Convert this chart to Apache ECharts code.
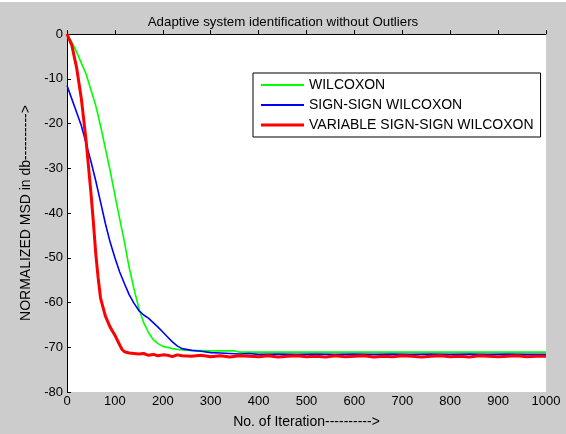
<!DOCTYPE html>
<html>
<head>
<meta charset="utf-8">
<script src="https://cdn.jsdelivr.net/npm/echarts@6/dist/echarts.min.js"></script>
<style>
html,body{margin:0;padding:0;background:#fff;}
#chart{width:566px;height:434px;}
</style>
</head>
<body>
<div id="chart"></div>
<script>
const titleText = 'Adaptive system identification without Outliers';
const xName = 'No. of Iteration---------->';
const yName = 'NORMALIZED MSD in db---------->';
const seriesNames = ['WILCOXON', 'SIGN-SIGN WILCOXON', 'VARIABLE SIGN-SIGN WILCOXON'];

const wilcoxonX = [0,10,20,30,40,50,60,70,80,90,100,110,120,130,140,150,160,170,180,190,200,220,240,260,300,350,360,1000];
const wilcoxonY = [0,-1.8,-4,-6.5,-9,-12.5,-16,-20.5,-25.5,-30.5,-36,-41.3,-46.5,-52.3,-57,-61.3,-64.5,-66.7,-68.3,-69.2,-69.8,-70.3,-70.6,-70.7,-70.8,-70.8,-71.1,-71.1];

const signX = [0,10,20,30,40,50,60,70,80,90,100,110,120,130,140,150,160,170,180,190,200,210,220,230,240,260,280,300,320,340,360,380,400,440,480,520,560,600,640,680,720,760,800,840,880,920,960,1000];
const signY = [-11.5,-14.5,-17.5,-20.5,-24.5,-28.5,-32.8,-37.5,-42.3,-46.5,-50,-53.2,-55.8,-58.3,-60.2,-61.8,-62.8,-63.5,-64.5,-65.5,-66.6,-67.7,-68.8,-69.7,-70.3,-70.7,-70.9,-71.2,-71.3,-71.4,-71.5,-71.4,-71.6,-71.5,-71.6,-71.5,-71.6,-71.5,-71.6,-71.5,-71.6,-71.5,-71.6,-71.5,-71.6,-71.5,-71.6,-71.6];

const variableX = [0,10,20,30,40,50,55,60,65,70,80,90,100,110,115,120,130,140,150,160,170,180,190,200,210,220,230,240,260,280,300,320,340,360,380,400,420,440,460,480,500,520,540,560,580,600,620,640,660,680,700,720,740,760,780,800,820,840,860,880,900,920,940,960,980,1000];
const variableY = [0,-2.5,-7.5,-14.5,-24,-35.5,-42,-49,-54.5,-59,-63,-65.5,-67.3,-69.5,-70.5,-71,-71.3,-71.4,-71.5,-71.4,-71.8,-71.6,-71.9,-71.7,-71.8,-72.1,-71.7,-71.9,-72.0,-71.8,-72.1,-71.9,-72.2,-71.9,-72.0,-72.1,-71.9,-72.2,-72.0,-71.9,-72.1,-72.0,-72.2,-71.9,-72.1,-72.0,-71.9,-72.2,-72.0,-72.1,-71.9,-72.0,-72.2,-72.0,-71.9,-72.1,-72.0,-72.2,-71.9,-72.0,-72.1,-72.0,-71.9,-72.1,-72.0,-72.0];

function pairs(xs, ys){ return xs.map((x,i)=>[x, ys[i]]); }

const thinIcon = 'path://M0,0h43v0.01h-43z M0,6h43v2h-43z M0,13.99h43v0.01h-43z';
const thickIcon = 'path://M0,0h43v0.01h-43z M0,5.5h43v3h-43z M0,13.99h43v0.01h-43z';

const font = 'Liberation Sans, Arial, sans-serif';
const chart = echarts.init(document.getElementById('chart'), null, {renderer:'canvas'});
chart.setOption({
  backgroundColor: '#ffffff',
  animation: false,
  graphic: [{
    type: 'rect', z: -10, silent: true,
    shape: {x: 0, y: 2, width: 566, height: 432},
    style: {fill: '#cccccc'}
  }],
  title: {
    text: titleText, left: 'center', top: 11,
    textStyle: {fontFamily: font, fontSize: 13.3, fontWeight: 'normal', color: '#000'}
  },
  grid: {left: 67, right: 20, top: 34, bottom: 38, show: true, backgroundColor: '#ffffff', borderWidth: 0},
  legend: {
    orient: 'vertical', left: 253, top: 73,
    data: [
      {name: seriesNames[0], icon: thinIcon},
      {name: seriesNames[1], icon: thinIcon},
      {name: seriesNames[2], icon: thickIcon}
    ],
    itemWidth: 43, itemHeight: 14, itemGap: 6,
    padding: [5, 7, 5, 8],
    backgroundColor: '#ffffff', borderColor: '#000', borderWidth: 1, borderRadius: 0,
    textStyle: {fontFamily: font, fontSize: 14, color: '#000'}
  },
  xAxis: {
    type: 'value', min: 0, max: 1000, interval: 100,
    name: xName, nameLocation: 'middle', nameGap: 23,
    nameTextStyle: {fontFamily: font, fontSize: 14, color: '#000'},
    axisLine: {show: true, lineStyle: {color: '#000', width: 1}},
    axisTick: {show: true, inside: true, length: 4, lineStyle: {color: '#000'}},
    axisLabel: {fontFamily: font, fontSize: 13, color: '#000', margin: 3, formatter: v => String(v)},
    splitLine: {show: false}
  },
  yAxis: {
    type: 'value', min: -80, max: 0, interval: 10,
    name: yName, nameLocation: 'middle', nameGap: 34,
    nameTextStyle: {fontFamily: font, fontSize: 14, color: '#000'},
    axisLine: {show: true, lineStyle: {color: '#000', width: 1}},
    axisTick: {show: true, inside: true, length: 4, lineStyle: {color: '#000'}},
    axisLabel: {fontFamily: font, fontSize: 13, color: '#000', margin: 4, formatter: v => String(v)},
    splitLine: {show: false}
  },
  series: [
    {name: seriesNames[0], type: 'line', symbol: 'none', data: pairs(wilcoxonX, wilcoxonY), lineStyle: {color: '#00ff00', width: 1.6}, itemStyle: {color: '#00ff00'}, z: 3},
    {name: seriesNames[1], type: 'line', symbol: 'none', data: pairs(signX, signY), lineStyle: {color: '#0000ff', width: 1.6}, itemStyle: {color: '#0000ff'}, z: 4},
    {name: seriesNames[2], type: 'line', symbol: 'none', data: pairs(variableX, variableY), lineStyle: {color: '#ff0000', width: 3}, itemStyle: {color: '#ff0000'}, z: 5}
  ]
});
</script>
</body>
</html>
